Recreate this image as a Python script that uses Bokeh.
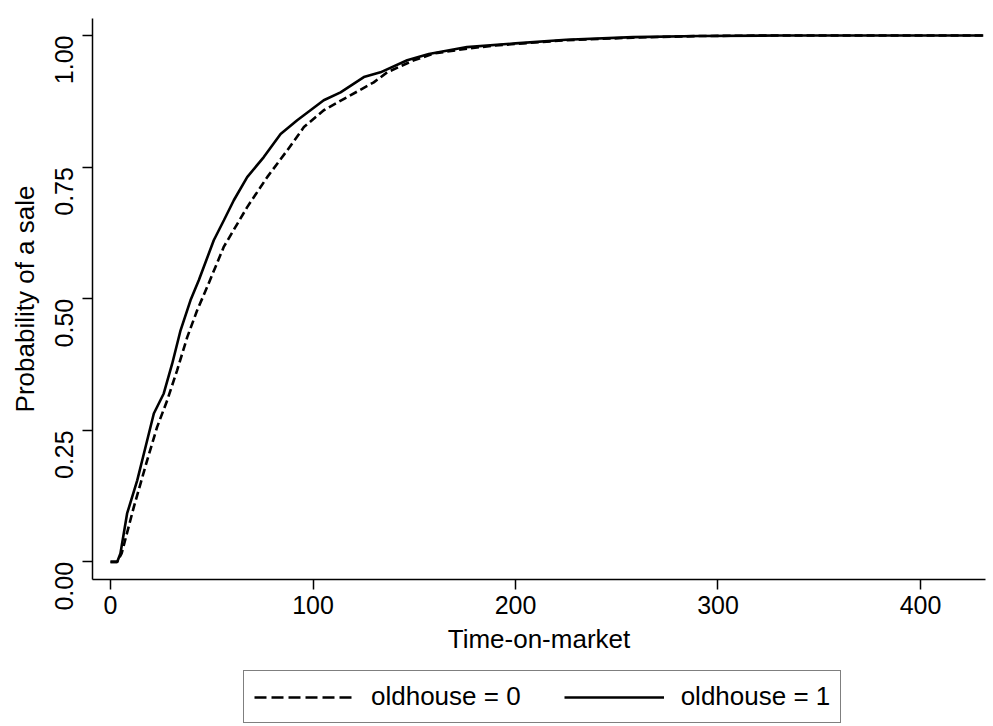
import math
from bokeh.plotting import figure
from bokeh.layouts import column
from bokeh.models import Range1d, FixedTicker, Legend, LegendItem, NumeralTickFormatter
from bokeh.embed import file_html
from bokeh.resources import INLINE

# Kaplan-Meier failure estimates
t_old0 = [0, 3.3, 5.5, 11.5, 18.1, 23.0, 28.0, 32.9, 37.9, 42.8, 47.7, 56.0, 67.5, 77.4,
          87.3, 95.5, 105.3, 116.9, 130.0, 136.6, 149.8, 160, 176, 190, 200, 225, 258,
          291, 330, 431]
f_old0 = [0, 0, 0.016, 0.104, 0.193, 0.256, 0.307, 0.364, 0.427, 0.478, 0.522, 0.599,
          0.674, 0.731, 0.782, 0.826, 0.858, 0.883, 0.911, 0.930, 0.953, 0.966, 0.975,
          0.981, 0.984, 0.991, 0.996, 0.999, 1.0, 1.0]

t_old1 = [0, 3.3, 4.9, 8.2, 13.2, 16.5, 21.4, 26.3, 30.5, 34.6, 39.5, 43.6, 51.0, 56.0,
          60.9, 67.5, 75.7, 84.0, 92.2, 105.3, 113.6, 125.1, 133.3, 146.5, 157.2, 176,
          200, 225, 258, 291, 330, 431]
f_old1 = [0, 0, 0.016, 0.092, 0.155, 0.206, 0.282, 0.320, 0.377, 0.440, 0.497, 0.535,
          0.611, 0.649, 0.687, 0.731, 0.769, 0.813, 0.839, 0.877, 0.892, 0.921, 0.930,
          0.953, 0.965, 0.978, 0.985, 0.992, 0.997, 0.999, 1.0, 1.0]

x_ticks = [0, 100, 200, 300, 400]
y_ticks = [0, 0.25, 0.5, 0.75, 1.0]
labels = ["oldhouse = 0", "oldhouse = 1"]

FONT = "Liberation Sans"
FS = "25px"
FS_TITLE = "26px"
DASH = "8 4"
LW = 2.6

p = figure(width=993, height=664, output_backend="svg", toolbar_location=None,
           x_range=Range1d(-8.89, 432.1), y_range=Range1d(-0.0334, 1.0323),
           min_border_left=92, min_border_right=8, min_border_top=18,
           min_border_bottom=85)
p.outline_line_color = None
p.xgrid.visible = False
p.ygrid.visible = False
p.background_fill_color = "white"
p.border_fill_color = "white"

p.line(t_old0, f_old0, line_color="black", line_width=LW, line_dash=DASH)
p.line(t_old1, f_old1, line_color="black", line_width=LW)

for ax in (p.xaxis[0], p.yaxis[0]):
    ax.axis_line_color = "black"
    ax.axis_line_width = 1.5
    ax.major_tick_line_color = "black"
    ax.major_tick_line_width = 1.5
    ax.major_tick_out = 10
    ax.major_tick_in = 0
    ax.minor_tick_out = 0
    ax.minor_tick_in = 0
    ax.major_label_text_font = FONT
    ax.major_label_text_font_size = FS
    ax.major_label_text_color = "black"
    ax.axis_label_text_font = FONT
    ax.axis_label_text_font_size = FS_TITLE
    ax.axis_label_text_font_style = "normal"
    ax.axis_label_text_color = "black"

p.xaxis.ticker = FixedTicker(ticks=x_ticks)
p.yaxis.ticker = FixedTicker(ticks=y_ticks)
p.yaxis.formatter = NumeralTickFormatter(format="0.00")
p.yaxis.major_label_orientation = math.pi / 2
p.xaxis.axis_label = "Time-on-market"
p.yaxis.axis_label = "Probability of a sale"
p.xaxis.major_label_standoff = 6
p.xaxis.axis_label_standoff = 7
p.yaxis.major_label_standoff = 18
p.yaxis.axis_label_standoff = 4

# legend strip below the plot (its lines are the same series, kept out of view)
lg = figure(width=993, height=62, output_backend="svg", toolbar_location=None,
            x_range=Range1d(-2000, -1000), y_range=Range1d(-2000, -1000),
            x_axis_location=None, y_axis_location=None,
            min_border_left=0, min_border_right=0, min_border_top=0, min_border_bottom=0)
lg.outline_line_color = None
lg.xgrid.visible = False
lg.ygrid.visible = False
lg.background_fill_color = "white"
lg.border_fill_color = "white"
l0 = lg.line(t_old0, f_old0, line_color="black", line_width=LW, line_dash="12 5")
l1 = lg.line(t_old1, f_old1, line_color="black", line_width=LW)

legend = Legend(items=[LegendItem(label=labels[0], renderers=[l0]),
                       LegendItem(label=labels[1], renderers=[l1])],
                orientation="horizontal", location=(151, 3),
                glyph_width=100, glyph_height=20, label_standoff=17, spacing=43,
                padding=10, border_line_color="black", border_line_width=1.5,
                label_text_font=FONT, label_text_font_size="26px",
                label_text_color="black", margin=0)
lg.add_layout(legend, "center")

layout = column(p, lg, spacing=0)
open("out.html", "w").write(file_html(layout, INLINE))
